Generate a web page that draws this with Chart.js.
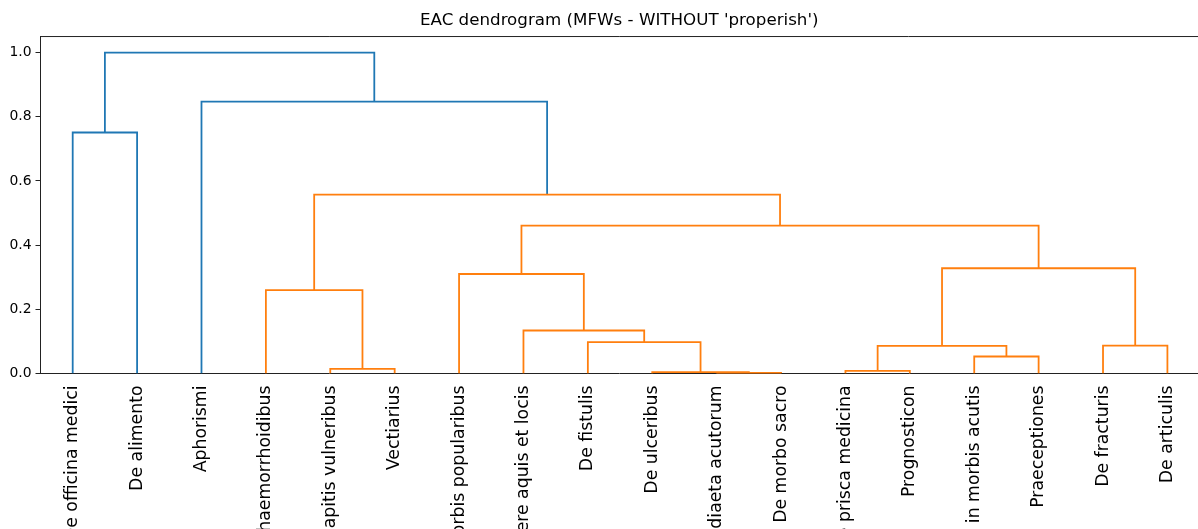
<!DOCTYPE html>
<html>
<head>
<meta charset="utf-8">
<script src="https://cdn.jsdelivr.net/npm/chart.js@4"></script>
<style>
  html, body { margin: 0; padding: 0; background: #fff; }
  #wrap { width: 1198px; height: 529px; overflow: hidden; }
</style>
</head>
<body>
<div id="wrap"><canvas id="c" width="1198" height="529"></canvas></div>
<script>
// ---- data ----
const leafLabels = [
  "De officina medici", "De alimento", "Aphorismi", "De haemorrhoidibus",
  "De capitis vulneribus", "Vectiarius", "De morbis popularibus",
  "De aere aquis et locis", "De fistulis", "De ulceribus", "De diaeta acutorum",
  "De morbo sacro", "De prisca medicina", "Prognosticon",
  "De diaeta in morbis acutis", "Praeceptiones", "De fracturis", "De articulis"
];
// linkage in leaf order: node ids >= 18 refer to earlier merges (18 + k)
const mergeLeft   = [10, 9, 12, 4, 14, 20, 16, 8, 7, 3, 6, 23, 28, 27, 0, 2, 32];
const mergeRight  = [11, 18, 13, 5, 15, 22, 17, 19, 25, 21, 26, 24, 29, 30, 1, 31, 33];
const mergeHeight = [0.0015, 0.004, 0.008, 0.0145, 0.053, 0.086, 0.087, 0.0975, 0.134,
                     0.2595, 0.310, 0.328, 0.461, 0.5576, 0.751, 0.847, 1.0];
const yTicks = [0.0, 0.2, 0.4, 0.6, 0.8, 1.0];
const colorThreshold = 0.7;

// ---- build dendrogram link datasets ----
const nLeaves = leafLabels.length;
const leafPos = leafLabels.map((_, i) => 5 + 10 * i);
const nodeX = leafPos.slice();
const nodeY = leafPos.map(() => 0);
const datasets = [];
for (let k = 0; k < mergeHeight.length; k++) {
  const a = mergeLeft[k], b = mergeRight[k], h = mergeHeight[k];
  nodeX[nLeaves + k] = (nodeX[a] + nodeX[b]) / 2;
  nodeY[nLeaves + k] = h;
  datasets.push({
    data: [
      { x: nodeX[a], y: nodeY[a] },
      { x: nodeX[a], y: h },
      { x: nodeX[b], y: h },
      { x: nodeX[b], y: nodeY[b] }
    ],
    borderColor: h > colorThreshold ? '#1f77b4' : '#ff7f0e',
    borderWidth: 1.8,
    pointRadius: 0,
    fill: false,
    tension: 0
  });
}

const FONT = "'DejaVu Sans', 'Liberation Sans', sans-serif";

const topSpine = {
  id: 'topSpine',
  afterDraw(chart) {
    const { ctx, chartArea } = chart;
    ctx.save();
    ctx.strokeStyle = '#222';
    ctx.lineWidth = 1;
    ctx.beginPath();
    ctx.moveTo(chartArea.left, chartArea.top);
    ctx.lineTo(chartArea.right, chartArea.top);
    ctx.stroke();
    ctx.restore();
  }
};

new Chart(document.getElementById('c'), {
  type: 'line',
  data: { datasets },
  plugins: [topSpine],
  options: {
    responsive: false,
    animation: false,
    layout: { padding: 0 },
    plugins: {
      legend: { display: false },
      tooltip: { enabled: false },
      title: {
        display: true,
        fullSize: false,
        text: "EAC dendrogram (MFWs - WITHOUT 'properish')",
        color: '#000',
        font: { family: FONT, size: 16.7, weight: 'normal', lineHeight: 1.2 },
        padding: { top: 11, bottom: 5.5 }
      }
    },
    scales: {
      x: {
        type: 'linear',
        min: 0,
        max: 179.75,
        afterBuildTicks: (s) => { s.ticks = leafPos.map(v => ({ value: v })); },
        afterFit: (s) => { s.height = 155.5; s.paddingLeft = 0; s.paddingRight = 0; },
        grid: { drawOnChartArea: false, drawTicks: false, tickLength: 0 },
        border: { display: true, color: '#222', width: 1 },
        ticks: {
          autoSkip: false,
          maxRotation: 90,
          minRotation: 90,
          padding: 12,
          color: '#000',
          font: { family: FONT, size: 17.3 },
          callback: (v) => leafLabels[Math.round((v - 5) / 10)]
        }
      },
      y: {
        type: 'linear',
        min: 0,
        max: 1.05,
        afterBuildTicks: (s) => { s.ticks = yTicks.map(v => ({ value: v })); },
        afterFit: (s) => { s.width = 40.5; s.paddingTop = 0; s.paddingBottom = 0; },
        grid: { drawOnChartArea: false, drawTicks: true, tickLength: 5, color: '#222' },
        border: { display: true, color: '#222', width: 1 },
        ticks: {
          padding: 4,
          color: '#000',
          font: { family: FONT, size: 13.9 },
          callback: (v) => Number(v).toFixed(1)
        }
      }
    }
  }
});
</script>
</body>
</html>
